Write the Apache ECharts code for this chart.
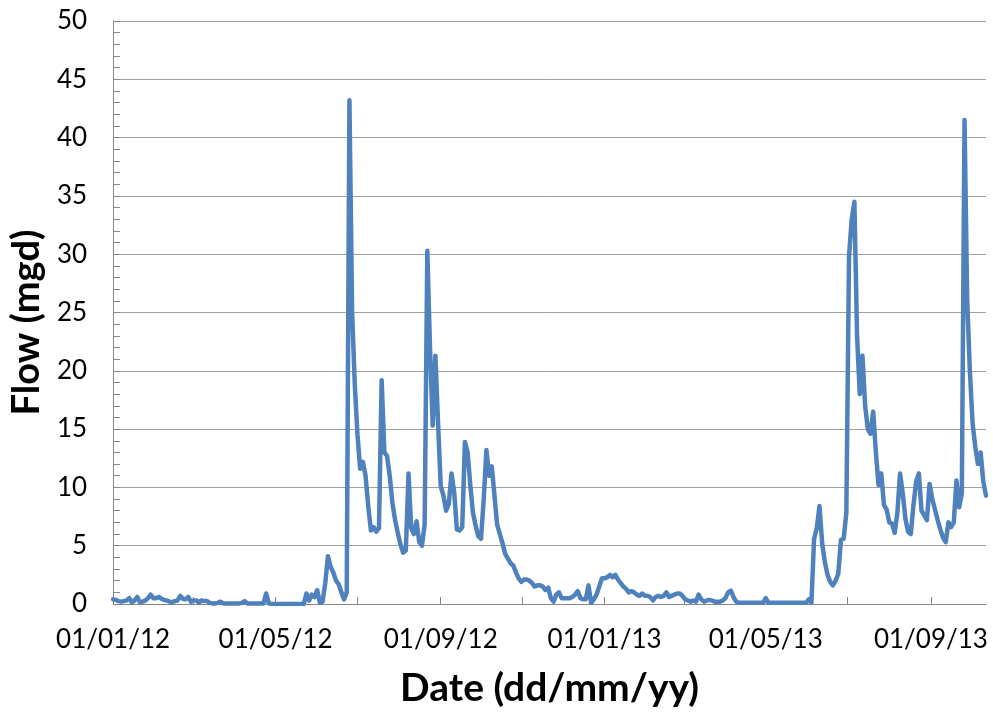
<!DOCTYPE html>
<html>
<head>
<meta charset="utf-8">
<script src="https://cdn.jsdelivr.net/npm/echarts@6/dist/echarts.min.js"></script>
<style>
html,body{margin:0;padding:0;background:#fff;}
#chart{width:993px;height:715px;}
</style>
</head>
<body>
<div id="chart"></div>
<script>
// Daily flow samples, every 2 days starting 01/01/2012 (values in mgd)
var flowStart = '2012-01-01';
var stepDays = 2;
var flow = [
 0.4,0.35,0.25,0.2,0.25,0.3,0.5,0.15,0.3,0.6,
 0.15,0.2,0.3,0.5,0.8,0.5,0.5,0.6,0.45,0.35,
 0.3,0.2,0.15,0.25,0.3,0.7,0.45,0.4,0.6,0.2,
 0.3,0.3,0.15,0.3,0.25,0.25,0.1,0.05,0.05,0.1,
 0.2,0.05,0.05,0.05,0.05,0.05,0.05,0.05,0.1,0.25,
 0.05,0.05,0.05,0.05,0.05,0.05,0.05,0.9,0.05,0,
 0,0,0,0,0,0,0,0,0,0,
 0,0,0.9,0.3,0.8,0.6,1.2,0.1,0.2,1.8,
 4.1,3.2,2.7,2.0,1.7,1.0,0.4,1.0,43.2,25,
 18.8,14.5,11.6,12.2,11.0,8.4,6.3,6.6,6.2,6.5,
 19.2,13.0,12.7,11.0,8.7,7.2,6.1,5.1,4.4,4.6,
 11.2,6.5,6.0,7.1,5.3,5.0,6.8,30.3,22,15.3,
 21.3,15.5,10.1,9.3,8.0,8.6,11.2,9.6,6.4,6.3,
 6.6,13.9,13.0,10.2,7.8,6.7,5.8,5.6,9.0,13.2,
 11.0,11.8,9.3,6.8,6.0,5.2,4.3,3.9,3.5,3.3,
 2.7,2.2,1.9,2.1,2.1,2.0,1.8,1.5,1.6,1.6,
 1.5,1.2,1.4,0.5,0.2,0.8,1.0,0.5,0.5,0.5,
 0.5,0.6,0.8,1.1,0.5,0.4,0.4,1.6,0.1,0.4,
 0.8,1.5,2.2,2.2,2.3,2.5,2.3,2.5,2.1,1.8,
 1.5,1.3,1.0,1.1,1.0,0.8,0.7,0.9,0.7,0.7,
 0.6,0.3,0.6,0.7,0.6,0.7,1.0,0.6,0.7,0.8,
 0.9,0.9,0.7,0.4,0.3,0.2,0.3,0.2,0.8,0.4,
 0.2,0.3,0.35,0.3,0.2,0.2,0.2,0.3,0.5,1.0,
 1.15,0.6,0.2,0.1,0.1,0.1,0.1,0.1,0.1,0.1,
 0.1,0.1,0.1,0.5,0.1,0.1,0.1,0.1,0.1,0.1,
 0.1,0.1,0.1,0.1,0.1,0.1,0.1,0.1,0.1,0.4,
 0.1,5.6,6.5,8.4,5.2,3.6,2.5,1.9,1.6,2.0,
 2.6,5.5,5.6,7.8,29.8,33.0,34.5,23,18,21.3,
 17,15,14.6,16.5,13,10.2,11.2,8.5,8.1,7.0,
 6.9,6.1,7.8,11.2,9.5,7.3,6.2,6.0,8.5,10.5,
 11.2,8.0,7.6,7.2,10.3,9.0,8.1,7.2,6.4,5.7,
 5.3,7.0,6.6,7.0,10.6,8.3,9.5,41.5,26,20,
 15.5,13.5,12.0,13.0,10.5,9.3
];
var tickDates = ['2012-01-01','2012-03-01','2012-05-01','2012-07-01','2012-09-01','2012-11-01',
                 '2013-01-01','2013-03-01','2013-05-01','2013-07-01','2013-09-01'];
var labelDates = ['2012-01-01','2012-05-01','2012-09-01','2013-01-01','2013-05-01','2013-09-01'];
var labelTexts = ['01/01/12','01/05/12','01/09/12','01/01/13','01/05/13','01/09/13'];
var yMin = 0, yMax = 50, yStep = 5;
var xTitle = 'Date (dd/mm/yy)';
var yTitle = 'Flow (mgd)';

var DAY = 86400000;
function ts(s){ return Date.parse(s + 'T00:00:00Z'); }
var t0 = ts(flowStart);
var seriesData = flow.map(function(v, i){ return [t0 + i * stepDays * DAY, v]; });
var tickVals = tickDates.map(ts);
var labelVals = labelDates.map(ts);
var xMax = t0 + (flow.length - 1) * stepDays * DAY;

var chart = echarts.init(document.getElementById('chart'), null, {renderer:'canvas'});
var axisGray = '#868686';
chart.setOption({
  animation:false,
  backgroundColor:'#ffffff',
  grid:{left:113, right:7, top:21, bottom:111, containLabel:false},
  xAxis:{
    type:'value',
    min:t0, max:xMax,
    name:xTitle, nameLocation:'middle', nameGap:65,
    nameTextStyle:{fontFamily:'Lato', fontWeight:'bold', fontSize:39, color:'#000'},
    axisLine:{show:true, lineStyle:{color:axisGray, width:1}},
    axisTick:{show:true, inside:true, length:7, customValues:tickVals, lineStyle:{color:axisGray}},
    axisLabel:{show:true, customValues:labelVals, margin:23, fontFamily:'Lato', fontSize:26, color:'#000',
      formatter:function(v){ var k = labelVals.indexOf(v); return k >= 0 ? labelTexts[k] : ''; }},
    splitLine:{show:false}
  },
  yAxis:{
    type:'value', min:yMin, max:yMax, interval:yStep,
    name:yTitle, nameLocation:'middle', nameGap:63,
    nameTextStyle:{fontFamily:'Lato', fontWeight:'bold', fontSize:38, color:'#000', padding:[0,20,0,0]},
    axisLine:{show:true, lineStyle:{color:axisGray, width:1}},
    axisTick:{show:true, inside:true, length:7, lineStyle:{color:axisGray}},
    minorTick:{show:true, splitNumber:5, length:7, lineStyle:{color:axisGray}},
    axisLabel:{margin:26, fontFamily:'Lato', fontSize:26, color:'#000'},
    splitLine:{show:true, lineStyle:{color:'#a0a0a0', width:1}}
  },
  series:[{
    type:'line',
    data:seriesData,
    showSymbol:false,
    symbol:'none',
    lineStyle:{color:'#4f81bd', width:4.5, cap:'round', join:'round'},
    itemStyle:{color:'#4f81bd'}
  }]
});
</script>
</body>
</html>
